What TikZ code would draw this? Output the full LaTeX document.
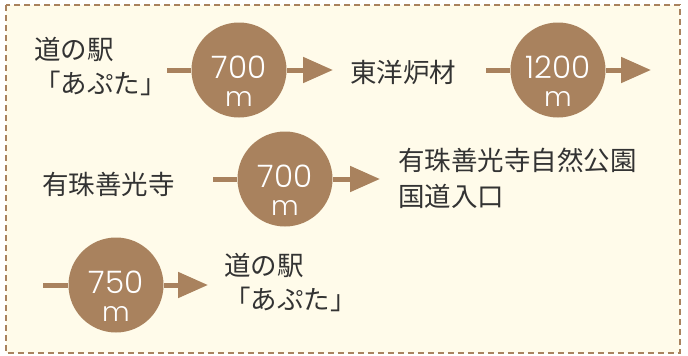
\documentclass[tikz,border=0pt]{standalone}
\usepackage{fontspec}
\setmainfont{Noto Sans CJK JP}
\newfontfamily\numfont{Poppins}[UprightFont=* Light]
\usetikzlibrary{arrows.meta}
\definecolor{brn}{HTML}{A9825E}
\definecolor{bg}{HTML}{FFFBEA}
\definecolor{ink}{HTML}{333333}
\tikzset{
  dist/.style={circle,fill=brn,minimum size=95pt,inner sep=0pt},
  num/.style={text=white,font=\numfont\fontsize{31}{31}\selectfont,inner sep=0pt},
  unit/.style={text=white,font=\numfont\fontsize{27}{27}\selectfont,inner sep=0pt},
  lbl/.style={text=ink,font=\fontsize{26.5}{34}\selectfont,align=left,anchor=west,inner sep=0pt},
  conn/.style={draw=brn,line width=5pt},
  arr/.style={draw=brn,line width=5pt,-{Triangle[length=30pt,width=25pt]}},
}
\begin{document}
\begin{tikzpicture}[x=1pt,y=-1pt]
\useasboundingbox (0,0) rectangle (688,356);
\fill[white] (0,0) rectangle (688,356);
\draw[fill=bg,draw=brn,line width=2pt,dash pattern=on 6pt off 4pt] (6,5) rectangle (680,353);
% row 1
\node[lbl] (a1) at (34,67) {道の駅\\「あぷた」};
\node[dist] (c1) at (239,70) {};
\node[num] (n1) at (239,67) {700};
\node[unit] (u1) at (239,99) {m};
\coordinate (s1) at (167,70);
\coordinate (e1) at (333,70);
\draw[conn] (s1) -- (c1);
\draw[arr] (c1) -- (e1);
\node[lbl] (a2) at (350,72) {東洋炉材};
\node[dist] (c2) at (558,70) {};
\node[num] (n2) at (558,67) {1200};
\node[unit] (u2) at (558,99) {m};
\coordinate (s2) at (486,70);
\coordinate (e2) at (651,70);
\draw[conn] (s2) -- (c2);
\draw[arr] (c2) -- (e2);
% row 2
\node[lbl] (a3) at (42,184) {有珠善光寺};
\node[dist] (c3) at (285,179) {};
\node[num] (n3) at (285,176) {700};
\node[unit] (u3) at (285,208) {m};
\coordinate (s3) at (213,179);
\coordinate (e3) at (380,179);
\draw[conn] (s3) -- (c3);
\draw[arr] (c3) -- (e3);
\node[lbl,font=\fontsize{26.5}{36}\selectfont] (a4) at (398,178) {有珠善光寺自然公園\\国道入口};
% row 3
\node[dist] (c4) at (116,285) {};
\node[num] (n4) at (116,282) {750};
\node[unit] (u4) at (116,314) {m};
\coordinate (s4) at (43,285);
\coordinate (e4) at (208,285);
\draw[conn] (s4) -- (c4);
\draw[arr] (c4) -- (e4);
\node[lbl] (a5) at (224,283) {道の駅\\「あぷた」};
\end{tikzpicture}
\end{document}
